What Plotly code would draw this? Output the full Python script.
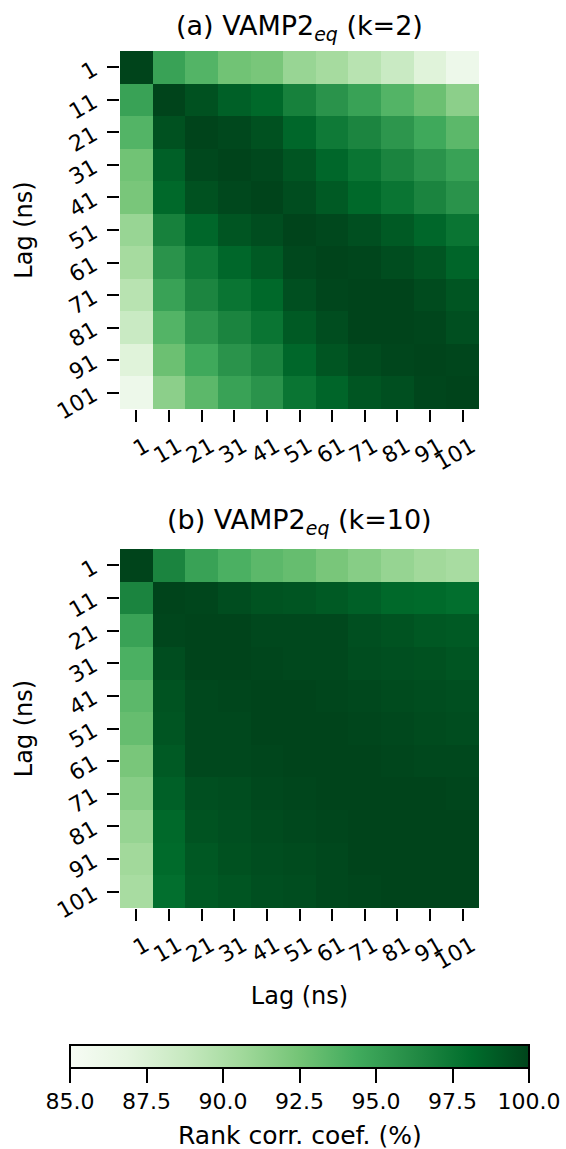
import plotly.graph_objects as go

lags = ["1", "11", "21", "31", "41", "51", "61", "71", "81", "91", "101"]

# (a) VAMP2_eq (k=2): rank correlation (%) rows = lag (y), cols = lag (x)
vals_a = [
    [100.0, 94.9, 93.7, 92.6, 92.3, 91.0, 90.4, 89.5, 88.6, 87.2, 86.0],
    [94.9, 100.0, 99.4, 98.7, 98.3, 96.9, 95.8, 94.9, 93.7, 92.8, 91.5],
    [93.7, 99.4, 100.0, 99.8, 99.4, 98.4, 97.3, 96.6, 95.6, 94.5, 93.4],
    [92.6, 98.7, 99.8, 100.0, 99.8, 99.2, 98.4, 97.6, 96.7, 95.8, 94.9],
    [92.3, 98.3, 99.4, 99.8, 100.0, 99.6, 99.0, 98.3, 97.6, 96.7, 95.8],
    [91.0, 96.9, 98.4, 99.2, 99.6, 100.0, 99.8, 99.5, 99.0, 98.4, 97.6],
    [90.4, 95.8, 97.3, 98.4, 99.0, 99.8, 100.0, 99.9, 99.6, 99.2, 98.5],
    [89.5, 94.9, 96.6, 97.6, 98.3, 99.5, 99.9, 100.0, 100.0, 99.7, 99.2],
    [88.6, 93.7, 95.6, 96.7, 97.6, 99.0, 99.6, 100.0, 100.0, 99.9, 99.5],
    [87.2, 92.8, 94.5, 95.8, 96.7, 98.4, 99.2, 99.7, 99.9, 100.0, 99.9],
    [86.0, 91.5, 93.4, 94.9, 95.8, 97.6, 98.5, 99.2, 99.5, 99.9, 100.0],
]

# (b) VAMP2_eq (k=10)
vals_b = [
    [100.0, 96.7, 94.9, 94.0, 93.4, 93.0, 92.3, 91.7, 91.1, 90.6, 90.3],
    [96.7, 100.0, 99.9, 99.6, 99.3, 99.2, 99.0, 98.7, 98.3, 98.2, 98.0],
    [94.9, 99.9, 100.0, 100.0, 99.8, 99.8, 99.8, 99.5, 99.3, 99.1, 99.0],
    [94.0, 99.6, 100.0, 100.0, 99.9, 99.8, 99.8, 99.6, 99.5, 99.4, 99.2],
    [93.4, 99.3, 99.8, 99.9, 100.0, 100.0, 99.9, 99.8, 99.7, 99.6, 99.5],
    [93.0, 99.2, 99.8, 99.8, 100.0, 100.0, 100.0, 99.9, 99.8, 99.7, 99.6],
    [92.3, 99.0, 99.8, 99.8, 99.9, 100.0, 100.0, 100.0, 99.9, 99.8, 99.8],
    [91.7, 98.7, 99.5, 99.6, 99.8, 99.9, 100.0, 100.0, 100.0, 100.0, 99.9],
    [91.1, 98.3, 99.3, 99.5, 99.7, 99.8, 99.9, 100.0, 100.0, 100.0, 100.0],
    [90.6, 98.2, 99.1, 99.4, 99.6, 99.7, 99.8, 100.0, 100.0, 100.0, 100.0],
    [90.3, 98.0, 99.0, 99.2, 99.5, 99.6, 99.8, 99.9, 100.0, 100.0, 100.0],
]

cbar_ticks = [85.0, 87.5, 90.0, 92.5, 95.0, 97.5, 100.0]

titles = ["(a) VAMP2<sub><i>eq</i></sub> (k=2)", "(b) VAMP2<sub><i>eq</i></sub> (k=10)"]
cbar_title = "Rank corr. coef. (%)"
axis_title = "Lag (ns)"

W, H = 566, 1149
FONT = "DejaVu Sans"
TICK_SIZE = 22
LABEL_SIZE = 24
TITLE_SIZE = 27
CBAR_LABEL_SIZE = 25

greens = [
    [0.0, "rgb(247,252,245)"], [0.125, "rgb(229,245,224)"], [0.25, "rgb(199,233,192)"],
    [0.375, "rgb(161,217,155)"], [0.5, "rgb(116,196,118)"], [0.625, "rgb(65,171,93)"],
    [0.75, "rgb(35,139,69)"], [0.875, "rgb(0,109,44)"], [1.0, "rgb(0,68,27)"],
]

def px_x(p):
    return p / W

def px_y(p):
    return 1 - p / H

fig = go.Figure()
fig.add_trace(go.Heatmap(z=vals_a, x=lags, y=lags, coloraxis="coloraxis",
                         xaxis="x", yaxis="y"))
fig.add_trace(go.Heatmap(z=vals_b, x=lags, y=lags, coloraxis="coloraxis",
                         xaxis="x2", yaxis="y2"))

tickfont = dict(family=FONT, size=TICK_SIZE, color="black")
axis_common = dict(type="category", showgrid=False, zeroline=False, showline=False,
                   ticks="outside", ticklen=12, tickwidth=2, tickcolor="black",
                   tickangle=-30, tickfont=tickfont)
x_common = dict(ticklabelstandoff=3, ticklabelshift=9, **axis_common)
y_common = dict(autorange="reversed", ticklabelstandoff=9, **axis_common)
lab_font = dict(family=FONT, size=LABEL_SIZE, color="black")
title_font = dict(family=FONT, size=TITLE_SIZE, color="black")

xdom = [px_x(120), px_x(479)]
fig.update_layout(
    width=W, height=H,
    margin=dict(l=0, r=0, t=0, b=0, autoexpand=False),
    paper_bgcolor="white", plot_bgcolor="white",
    font=dict(family=FONT, size=TICK_SIZE, color="black"),
    xaxis=dict(domain=xdom, anchor="y", **x_common),
    yaxis=dict(domain=[px_y(409), px_y(51)], anchor="x",
               title=dict(text=axis_title, font=lab_font, standoff=13), **y_common),
    xaxis2=dict(domain=xdom, anchor="y2",
                title=dict(text=axis_title, font=lab_font, standoff=13), **x_common),
    yaxis2=dict(domain=[px_y(908), px_y(549)], anchor="x2",
                title=dict(text=axis_title, font=lab_font, standoff=13), **y_common),
    coloraxis=dict(
        colorscale=greens, cmin=85, cmax=100,
        colorbar=dict(
            orientation="h", x=px_x(299.5), xanchor="center",
            lenmode="pixels", len=459, thickness=23, thicknessmode="pixels",
            y=px_y(1045), yanchor="top", ypad=0, xpad=0,
            outlinewidth=2, outlinecolor="black",
            tickvals=cbar_ticks, ticktext=[f"{v:.1f}" for v in cbar_ticks],
            ticks="outside", ticklen=14, tickwidth=2, tickcolor="black",
            tickfont=tickfont,
        ),
    ),
    annotations=[
        dict(text=titles[0], x=px_x(299.5), y=px_y(27), xref="paper", yref="paper",
             xanchor="center", yanchor="middle", showarrow=False, font=title_font),
        dict(text=titles[1], x=px_x(299.5), y=px_y(521), xref="paper", yref="paper",
             xanchor="center", yanchor="middle", showarrow=False, font=title_font),
        dict(text=cbar_title, x=px_x(299.5), y=px_y(1135), xref="paper", yref="paper",
             xanchor="center", yanchor="middle", showarrow=False,
             font=dict(family=FONT, size=CBAR_LABEL_SIZE, color="black")),
    ],
)

fig.write_html("out.html")
